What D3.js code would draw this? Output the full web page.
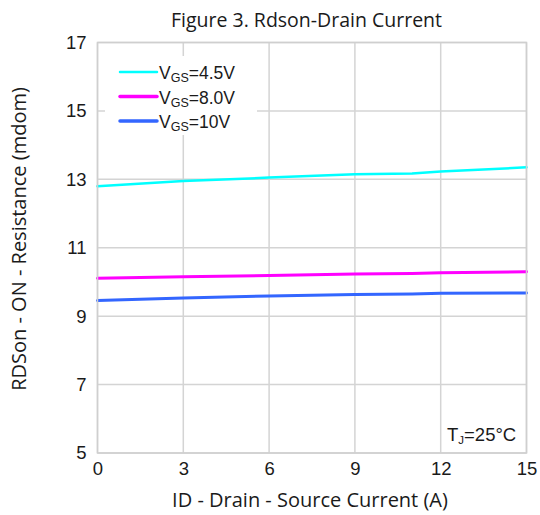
<!DOCTYPE html>
<html>
<head>
<meta charset="utf-8">
<script src="https://cdn.jsdelivr.net/npm/d3@7"></script>
<style>
  body { margin: 0; background: #fff; }
  text { fill: #1a1a1a; }
</style>
</head>
<body>
<script>
// drain current (A)
const current = [0, 3, 6, 9, 11, 12, 15];
// RDS(on) in mOhm, one list per gate voltage
const vgs45 = [12.80, 12.95, 13.05, 13.15, 13.17, 13.23, 13.35];
const vgs80 = [10.11, 10.15, 10.19, 10.23, 10.25, 10.27, 10.30];
const vgs10 = [9.46, 9.53, 9.59, 9.63, 9.65, 9.67, 9.68];

const seriesNames = ['4.5V', '8.0V', '10V'];
const seriesColors = ['#00ffff', '#ff00ff', '#3366ff'];
const xTicks = [0, 3, 6, 9, 12, 15];
const yTicks = [5, 7, 9, 11, 13, 15, 17];

const width = 540, height = 515;
const margin = { left: 97.5, right: 13.5, top: 42.5, bottom: 62 };

const svg = d3.select('body')
  .append('svg')
  .attr('width', width)
  .attr('height', height);

const x = d3.scaleLinear().domain([0, 15]).range([margin.left, width - margin.right]);
const y = d3.scaleLinear().domain([5, 17]).range([height - margin.bottom, margin.top]);

const tickFont = '"Liberation Sans", Arial, sans-serif';
const labelFont = '"Open Sans", "Noto Sans", sans-serif';

// grid
svg.append('g')
  .selectAll('line.vx')
  .data(xTicks)
  .join('line')
  .attr('x1', d => x(d)).attr('x2', d => x(d))
  .attr('y1', y(5)).attr('y2', y(17))
  .attr('stroke', '#d4d4d4').attr('stroke-width', 1.5);

svg.append('g')
  .selectAll('line.hy')
  .data(yTicks)
  .join('line')
  .attr('x1', x(0)).attr('x2', x(15))
  .attr('y1', d => y(d)).attr('y2', d => y(d))
  .attr('stroke', '#d4d4d4').attr('stroke-width', 1.5);

// axes (labels only)
const xAxis = svg.append('g')
  .attr('transform', `translate(0,${y(5)})`)
  .call(d3.axisBottom(x).tickValues(xTicks).tickSize(0).tickPadding(9));
xAxis.select('.domain').remove();
xAxis.selectAll('text')
  .style('font-family', tickFont).style('font-size', '18.5px').attr('fill', '#1a1a1a');

const yAxis = svg.append('g')
  .attr('transform', `translate(${x(0)},0)`)
  .call(d3.axisLeft(y).tickValues(yTicks).tickSize(0).tickPadding(11));
yAxis.select('.domain').remove();
yAxis.selectAll('text')
  .style('font-family', tickFont).style('font-size', '18.5px').attr('fill', '#1a1a1a');

// legend background covers grid
const legend = svg.append('g');
legend.append('rect')
  .attr('x', 105).attr('y', 56)
  .attr('width', 152).attr('height', 79)
  .attr('fill', '#fff');

// lines
const data = [vgs45, vgs80, vgs10];
const line = d3.line()
  .x((d, i) => x(current[i]))
  .y(d => y(d));

svg.append('g')
  .selectAll('path')
  .data(data)
  .join('path')
  .attr('d', line)
  .attr('fill', 'none')
  .attr('stroke', (d, i) => seriesColors[i])
  .attr('stroke-width', (d, i) => i === 0 ? 2.5 : 3)
  .attr('stroke-linecap', 'round');

const rows = legend.selectAll('g.row')
  .data(seriesNames)
  .join('g')
  .attr('transform', (d, i) => `translate(0,${72 + i * 24.5})`);

rows.append('line')
  .attr('x1', 120).attr('x2', 157)
  .attr('stroke', (d, i) => seriesColors[i])
  .attr('stroke-width', (d, i) => i === 0 ? 2.5 : 3.5)
  .attr('stroke-linecap', 'round');

const lt = rows.append('text')
  .attr('x', 159).attr('y', 7)
  .style('font-family', tickFont).style('font-size', '17.5px');
lt.append('tspan').text('V');
lt.append('tspan').attr('dy', 3).style('font-size', '12.5px').text('GS');
lt.append('tspan').attr('dy', -3).text(d => '=' + d);

// frame
svg.append('rect')
  .attr('x', x(0)).attr('y', y(17))
  .attr('width', x(15) - x(0)).attr('height', y(5) - y(17))
  .attr('fill', 'none').attr('stroke', '#cfcfcf').attr('stroke-width', 1.5);

// junction temperature note
const tj = svg.append('text')
  .attr('x', 447).attr('y', 441)
  .style('font-family', tickFont).style('font-size', '18.5px');
tj.append('tspan').text('T');
tj.append('tspan').attr('dy', 3).style('font-size', '11.5px').text('J');
tj.append('tspan').attr('dy', -3).text('=25°C');

// titles
svg.append('text')
  .attr('x', 306.5).attr('y', 27)
  .attr('text-anchor', 'middle')
  .style('font-family', labelFont).style('font-size', '19.5px')
  .text('Figure 3. Rdson-Drain Current');

svg.append('text')
  .attr('x', 310).attr('y', 507)
  .attr('text-anchor', 'middle')
  .style('font-family', labelFont).style('font-size', '20px')
  .text('ID - Drain - Source Current (A)');

svg.append('text')
  .attr('transform', 'translate(26,239) rotate(-90)')
  .attr('text-anchor', 'middle')
  .style('font-family', labelFont).style('font-size', '20px')
  .text('RDSon - ON - Resistance (mdom)');
</script>
</body>
</html>
